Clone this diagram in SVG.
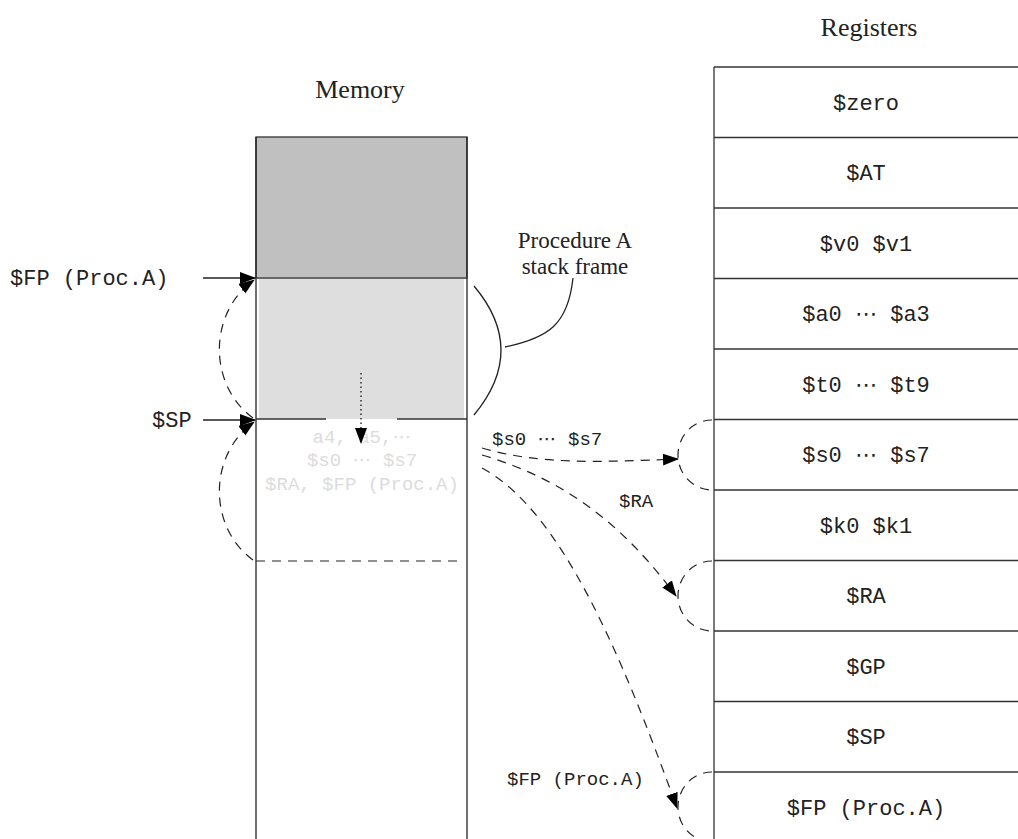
<svg xmlns="http://www.w3.org/2000/svg" width="1018" height="839" viewBox="0 0 1018 839">
<style>
.serif{font-family:"Liberation Serif","DejaVu Serif",serif;fill:#222}
.mono{font-family:"Liberation Mono","DejaVu Sans Mono",monospace;fill:#222;font-size:22px}
.small{font-family:"Liberation Mono","DejaVu Sans Mono",monospace;fill:#222;font-size:19px}
.faded{font-family:"Liberation Mono","DejaVu Sans Mono",monospace;fill:#dcdcdc;font-size:19px}
.dots{font-family:"DejaVu Serif","DejaVu Sans",serif;font-weight:normal}
.line{stroke:#222;stroke-width:1.3;fill:none}
.dash{stroke:#222;stroke-width:1.2;fill:none;stroke-dasharray:9 7}
.reg{stroke:#333;stroke-width:1.3}
</style>
<defs>
<marker id="ah" markerUnits="userSpaceOnUse" markerWidth="17" markerHeight="13" refX="15" refY="6" orient="auto">
<path d="M0,0 L16,6 L0,12 z" fill="#000"/>
</marker>
</defs>
<rect width="1018" height="839" fill="#fff"/>

<g id="memory">
<text class="serif" x="360" y="98" font-size="26" text-anchor="middle">Memory</text>
<rect x="256" y="137" width="211" height="141" fill="#c0c0c0" stroke="#333" stroke-width="1.3"/>
<rect x="259" y="279" width="205" height="140" fill="#dedede"/>
<line x1="256" y1="278" x2="467" y2="278" stroke="#666" stroke-width="1.3"/>
<line x1="256" y1="419" x2="467" y2="419" stroke="#333" stroke-width="1.3"/>
<line x1="256" y1="137" x2="256" y2="839" class="line"/>
<line x1="467" y1="137" x2="467" y2="839" class="line"/>
<rect x="326" y="418.2" width="71" height="3" fill="#fff"/>
<line x1="256" y1="561" x2="462" y2="561" class="dash"/>
<text class="faded" x="362" y="443" text-anchor="middle">a4, a5,<tspan class="dots">⋯</tspan></text>
<text class="faded" x="362" y="466" text-anchor="middle">$s0 <tspan class="dots">⋯</tspan> $s7</text>
<text class="faded" x="362" y="490" text-anchor="middle">$RA, $FP (Proc.A)</text>
</g>

<g id="frame-label">
<text class="serif" x="575" y="248" font-size="23" text-anchor="middle">Procedure A</text>
<text class="serif" x="575" y="274" font-size="23" text-anchor="middle">stack frame</text>
<path d="M474 286 Q528 350 474 415" class="line"/>
<path d="M505 347 C548 338, 568 325, 573 278" class="line"/>
</g>

<g id="pointers">
<text class="mono" x="10" y="285">$FP (Proc.A)</text>
<text class="mono" x="152" y="427">$SP</text>
</g>

<g id="registers">
<text class="serif" x="869" y="36" font-size="26" text-anchor="middle">Registers</text>
<line x1="714" y1="67" x2="714" y2="839" class="reg"/>
<g class="reg">
<line x1="714" y1="67" x2="1018" y2="67"/>
<line x1="714" y1="137.5" x2="1018" y2="137.5"/>
<line x1="714" y1="208" x2="1018" y2="208"/>
<line x1="714" y1="278.5" x2="1018" y2="278.5"/>
<line x1="714" y1="349" x2="1018" y2="349"/>
<line x1="714" y1="419.5" x2="1018" y2="419.5"/>
<line x1="714" y1="490" x2="1018" y2="490"/>
<line x1="714" y1="560.5" x2="1018" y2="560.5"/>
<line x1="714" y1="631" x2="1018" y2="631"/>
<line x1="714" y1="701.5" x2="1018" y2="701.5"/>
<line x1="714" y1="772" x2="1018" y2="772"/>
</g>
<g text-anchor="middle">
<text class="mono" x="866" y="110">$zero</text>
<text class="mono" x="866" y="180">$AT</text>
<text class="mono" x="866" y="251">$v0 $v1</text>
<text class="mono" x="866" y="321">$a0 <tspan class="dots">⋯</tspan> $a3</text>
<text class="mono" x="866" y="392">$t0 <tspan class="dots">⋯</tspan> $t9</text>
<text class="mono" x="866" y="462">$s0 <tspan class="dots">⋯</tspan> $s7</text>
<text class="mono" x="866" y="533">$k0 $k1</text>
<text class="mono" x="866" y="603">$RA</text>
<text class="mono" x="866" y="674">$GP</text>
<text class="mono" x="866" y="744">$SP</text>
<text class="mono" x="866" y="815">$FP (Proc.A)</text>
</g>
<path d="M712 420 A34 35 0 0 0 712 490" class="dash"/>
<path d="M712 561 A34 35 0 0 0 712 631" class="dash"/>
<path d="M712 772 A34 35 0 0 0 712 842" class="dash"/>
</g>

<g id="connectors">
<line x1="203" y1="278" x2="255" y2="278" class="line" marker-end="url(#ah)"/>
<line x1="203" y1="420" x2="255" y2="420" class="line" marker-end="url(#ah)"/>
<path d="M253 418 C208 385, 208 313, 254 280" class="dash" marker-end="url(#ah)"/>
<path d="M253 560 C208 527, 208 455, 254 422" class="dash" marker-end="url(#ah)"/>
<line x1="361" y1="373" x2="361" y2="443" stroke="#000" stroke-width="1.2" stroke-dasharray="1.5 3" marker-end="url(#ah)"/>
<path d="M482 448 C540 465, 600 462, 678 459" class="dash" marker-end="url(#ah)"/>
<path d="M482 455 C560 478, 620 520, 676 596" class="dash" marker-end="url(#ah)"/>
<path d="M482 468 C560 510, 620 650, 677 808" class="dash" marker-end="url(#ah)"/>
<text class="small" x="492" y="445">$s0 <tspan class="dots">⋯</tspan> $s7</text>
<text class="small" x="619" y="507">$RA</text>
<text class="small" x="507" y="785">$FP (Proc.A)</text>
</g>
</svg>
